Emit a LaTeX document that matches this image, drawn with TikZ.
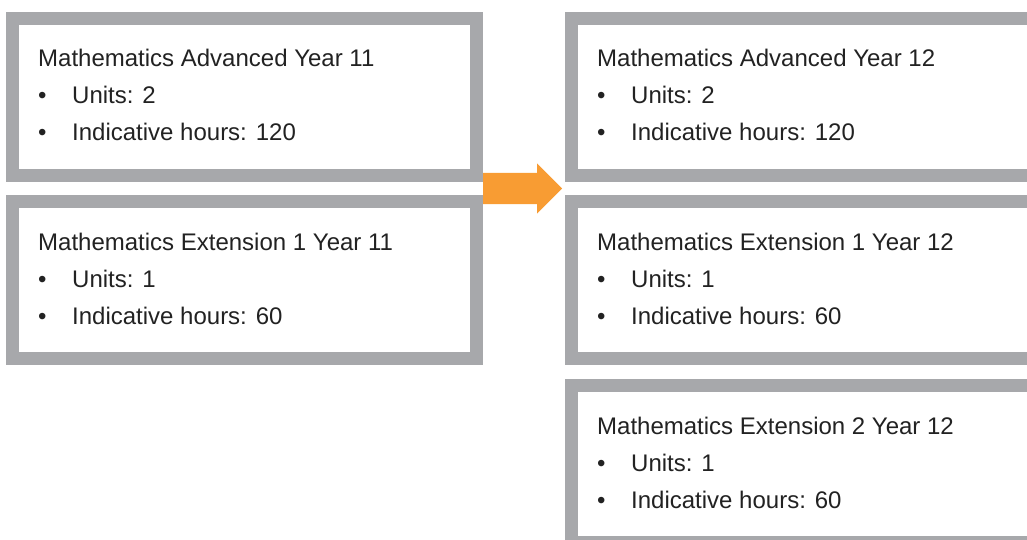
\documentclass[tikz,border=0pt]{standalone}
\usepackage{fontspec}
\setmainfont{Liberation Sans}
\usetikzlibrary{calc}
\definecolor{framegray}{HTML}{A7A8AB}
\definecolor{textgray}{HTML}{222222}
\definecolor{arroworange}{HTML}{F89C33}

\begin{document}
\begin{tikzpicture}[x=1pt,y=-1pt,
    course/.style={draw=framegray, line width=13pt, fill=white, inner sep=0pt,
      minimum width=464pt, minimum height=157pt},
    entry/.style={anchor=base west, inner sep=0pt, text=textgray,
      font=\fontsize{24}{28}\selectfont}]
    \useasboundingbox (0,0) rectangle (1027,540);
    \clip (0,0) rectangle (1027,540);

    % Year 11 courses
    \node[course] (l1) at (244.5,97) {};
    \node[course] (l2) at (244.5,280) {};
    % Year 12 courses
    \node[course] (r1) at (803.5,97) {};
    \node[course] (r2) at (803.5,280) {};
    \node[course] (r3) at (803.5,464) {};

    % Course details
    \foreach \b/\t/\u/\h in {l1/Mathematics Advanced Year 11/2/120,
        l2/Mathematics Extension 1 Year 11/1/60,
        r1/Mathematics Advanced Year 12/2/120,
        r2/Mathematics Extension 1 Year 12/1/60,
        r3/Mathematics Extension 2 Year 12/1/60} {
      \node[entry] (\b-title) at ($(\b.north west)+(32,55)$) {\t};
      \node[entry] (\b-dot1) at ($(\b.north west)+(32,92)$) {•};
      \node[entry] (\b-units) at ($(\b.north west)+(66,92)$) {Units: \u};
      \node[entry] (\b-dot2) at ($(\b.north west)+(32,129)$) {•};
      \node[entry] (\b-hours) at ($(\b.north west)+(66,129)$) {Indicative hours: \h};
    }

    % Arrow from Year 11 to Year 12
    \coordinate (mid) at ($(l1.south east)!0.5!(l2.north east)$);
    \fill[arroworange] ($(mid)+(0,-15.5)$) -- ++(54,0) -- ++(0,-9.5)
      -- ($(mid)+(79,0)$) -- ($(mid)+(54,25)$) -- ++(0,-9.5)
      -- ($(mid)+(0,15.5)$) -- cycle;
\end{tikzpicture}
\end{document}
